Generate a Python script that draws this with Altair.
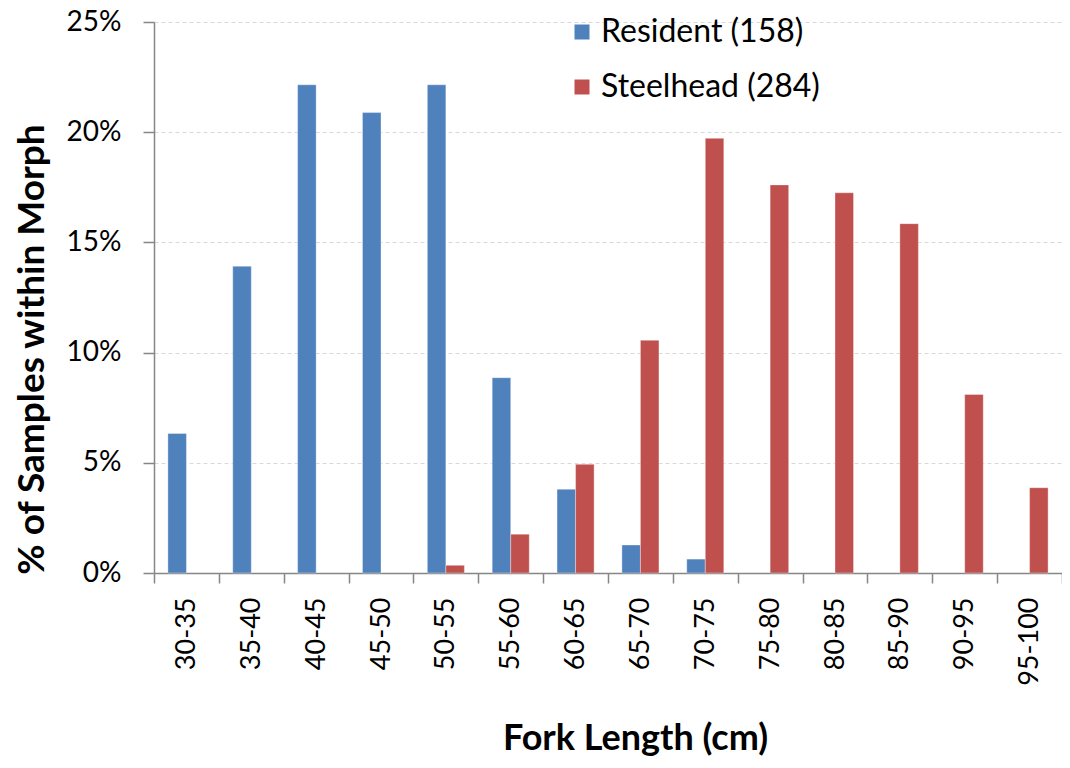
import altair as alt
import pandas as pd

categories = ["30-35", "35-40", "40-45", "45-50", "50-55", "55-60", "60-65",
              "65-70", "70-75", "75-80", "80-85", "85-90", "90-95", "95-100"]
resident_pct = [6.33, 13.92, 22.15, 20.89, 22.15, 8.86, 3.80, 1.27, 0.63,
                0, 0, 0, 0, 0]
steelhead_pct = [0, 0, 0, 0, 0.35, 1.76, 4.93, 10.56, 19.72, 17.61, 17.25,
                 15.85, 8.10, 3.87]
series_names = ["Resident (158)", "Steelhead (284)"]
series_colors = ["#4F81BD", "#C0504D"]

rows = []
for cat, r, s in zip(categories, resident_pct, steelhead_pct):
    if r > 0:
        rows.append({"len": cat, "series": series_names[0], "pct": r / 100})
    if s > 0:
        rows.append({"len": cat, "series": series_names[1], "pct": s / 100})
df = pd.DataFrame(rows)

FONT = "Lato"
AXIS_GREY = "#868686"

chart = alt.Chart(df).mark_bar(stroke="white", strokeOpacity=0.35, strokeWidth=1).encode(
    x=alt.X(
        "len:N",
        sort=categories,
        scale=alt.Scale(domain=categories, paddingInner=0, paddingOuter=0),
        axis=alt.Axis(
            title="Fork Length (cm)",
            tickBand="extent",
            labelAngle=270,
            labelAlign="right",
            labelBaseline="middle",
            labelFont=FONT,
            labelFontSize=27,
            labelColor="black",
            labelPadding=14,
            tickSize=10,
            tickColor=AXIS_GREY,
            tickWidth=1.5,
            domainColor=AXIS_GREY,
            domainWidth=1.5,
            grid=False,
            titleFont=FONT,
            titleFontSize=36,
            titleFontWeight="bold",
            titleColor="black",
            titlePadding=36,
            titleX=481,
        ),
    ),
    xOffset=alt.XOffset(
        "series:N",
        scale=alt.Scale(domain=series_names, paddingInner=0, paddingOuter=0.75),
    ),
    y=alt.Y(
        "pct:Q",
        scale=alt.Scale(domain=[0, 0.25], nice=False),
        axis=alt.Axis(
            title="% of Samples within Morph",
            format=".0%",
            values=[0, 0.05, 0.10, 0.15, 0.20, 0.25],
            labelFont=FONT,
            labelFontSize=28,
            labelColor="black",
            labelPadding=22,
            tickSize=11,
            tickColor=AXIS_GREY,
            tickWidth=1.5,
            domainColor=AXIS_GREY,
            domainWidth=1.5,
            gridColor="#D9D9D9",
            gridDash=[4, 3],
            gridWidth=1.2,
            titleFont=FONT,
            titleFontSize=37,
            titleFontWeight="bold",
            titleColor="black",
            titlePadding=15,
            titleY=327,
        ),
    ),
    color=alt.Color(
        "series:N",
        scale=alt.Scale(domain=series_names, range=series_colors),
        legend=alt.Legend(
            title=None,
            orient="none",
            legendX=412,
            legendY=-6,
            symbolType="square",
            symbolSize=225,
            symbolStrokeWidth=0,
            labelFont=FONT,
            labelFontSize=32,
            labelColor="black",
            labelOffset=3,
            labelLimit=0,
            rowPadding=23,
            padding=0,
        ),
    ),
).properties(
    width=908,
    height=551,
    autosize=alt.AutoSizeParams(type="none"),
    padding={"left": 146, "top": 14, "right": 0, "bottom": 194},
).configure_view(stroke=None)

chart.save("out.html", embed_options={"renderer": "svg", "actions": False})
